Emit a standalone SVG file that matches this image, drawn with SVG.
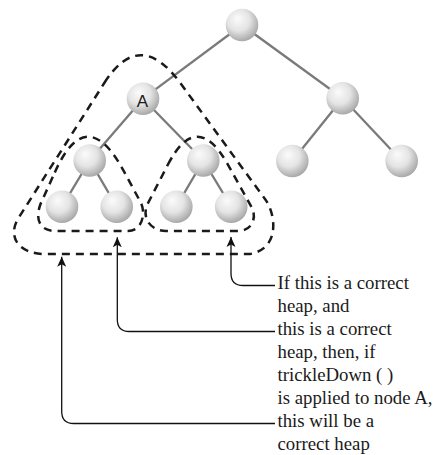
<svg xmlns="http://www.w3.org/2000/svg" width="435" height="455" viewBox="0 0 435 455">
<defs>
<radialGradient id="ball" cx="0.42" cy="0.38" r="0.62" fx="0.36" fy="0.3">
<stop offset="0" stop-color="#fbfbfb"/>
<stop offset="0.55" stop-color="#e4e4e4"/>
<stop offset="1" stop-color="#a9a9a9"/>
</radialGradient>
<marker id="arr" markerUnits="userSpaceOnUse" viewBox="0 0 10 10" refX="10" refY="5" markerWidth="10" markerHeight="10" orient="auto">
<path d="M0,0.5 L10,5 L0,9.5 L2.5,5 Z" fill="#111"/>
</marker>
</defs>
<style>
.edge{stroke:#7a7a7a;stroke-width:2.3;fill:none}
.node{fill:url(#ball)}
.dash{fill:none;stroke:#1a1a1a;stroke-width:2.5;stroke-dasharray:8 6}
.arrow{fill:none;stroke:#111;stroke-width:1.3;marker-end:url(#arr)}
.lbl{font-family:"Liberation Sans",Arial,sans-serif;font-size:17px;fill:#1a1a1a;text-anchor:middle}
.txt{font-family:"Liberation Serif","Times New Roman",serif;font-size:18.8px;fill:#1a1a1a}
</style>
<g id="connectors">
<line class="edge" x1="242" y1="25" x2="143" y2="98.7"/>
<line class="edge" x1="242" y1="25" x2="342.7" y2="98.3"/>
<line class="edge" x1="143" y1="98.7" x2="89.7" y2="160.5"/>
<line class="edge" x1="143" y1="98.7" x2="203.3" y2="160.5"/>
<line class="edge" x1="342.7" y1="98.3" x2="292.3" y2="161"/>
<line class="edge" x1="342.7" y1="98.3" x2="401.7" y2="161"/>
<line class="edge" x1="89.7" y1="160.5" x2="62" y2="206.7"/>
<line class="edge" x1="89.7" y1="160.5" x2="116.7" y2="206.7"/>
<line class="edge" x1="203.3" y1="160.5" x2="176.3" y2="206.7"/>
<line class="edge" x1="203.3" y1="160.5" x2="231.2" y2="206.7"/>
</g>
<g id="root"><circle class="node" cx="242" cy="25" r="16.3"/></g>
<g id="nodeA"><circle class="node" cx="143" cy="98.7" r="16.3"/><text class="lbl" x="142.5" y="106.7">A</text></g>
<g id="nodeR"><circle class="node" cx="342.7" cy="98.3" r="16.3"/></g>
<g id="nodeAL"><circle class="node" cx="89.7" cy="160.5" r="16.3"/></g>
<g id="nodeAR"><circle class="node" cx="203.3" cy="160.5" r="16.3"/></g>
<g id="nodeRL"><circle class="node" cx="292.3" cy="161" r="16.3"/></g>
<g id="nodeRR"><circle class="node" cx="401.7" cy="161" r="16.3"/></g>
<g id="nodeALL"><circle class="node" cx="62" cy="206.7" r="16.3"/></g>
<g id="nodeALR"><circle class="node" cx="116.7" cy="206.7" r="16.3"/></g>
<g id="nodeARL"><circle class="node" cx="176.3" cy="206.7" r="16.3"/></g>
<g id="nodeARR"><circle class="node" cx="231.2" cy="206.7" r="16.3"/></g>
<g id="outlines">
<path class="dash" d="M104.3,83 Q139.6,27.4 180.3,83 L265.7,200 C274.5,212 282,248 250,254 L45,254 C18,254 7,236 18.5,218 Z"/>
<path class="dash" d="M54.8,172.4 Q86.6,101 124.5,172.4 L141,203 C146,214 142,231 128,231 L55,231 C42,231 34,222 40.5,204 Z"/>
<path class="dash" d="M167.8,164.8 Q196.8,108.6 228,164.8 L252,208 C257,218 252,231 238,231 L166,231 C154,231 142,222 146.5,206 Z"/>
</g>
<g id="arrows">
<path class="arrow" d="M275,285.5 H243 Q231,285.5 231,273.5 V237"/>
<path class="arrow" d="M275,331.5 H129.3 Q117.3,331.5 117.3,319.5 V237.3"/>
<path class="arrow" d="M275,423.5 H73.7 Q61.7,423.5 61.7,411.5 V256.7"/>
</g>
<g id="caption">
<text class="txt" x="277.5" y="288.5">If this is a correct</text>
<text class="txt" x="277.5" y="311.5">heap, and</text>
<text class="txt" x="277.5" y="334.5">this is a correct</text>
<text class="txt" x="277.5" y="357.5">heap, then, if</text>
<text class="txt" x="277.5" y="380.5">trickleDown ( )</text>
<text class="txt" x="277.5" y="403.5">is applied to node A,</text>
<text class="txt" x="277.5" y="426.5">this will be a</text>
<text class="txt" x="277.5" y="449.5">correct heap</text>
</g>
</svg>
